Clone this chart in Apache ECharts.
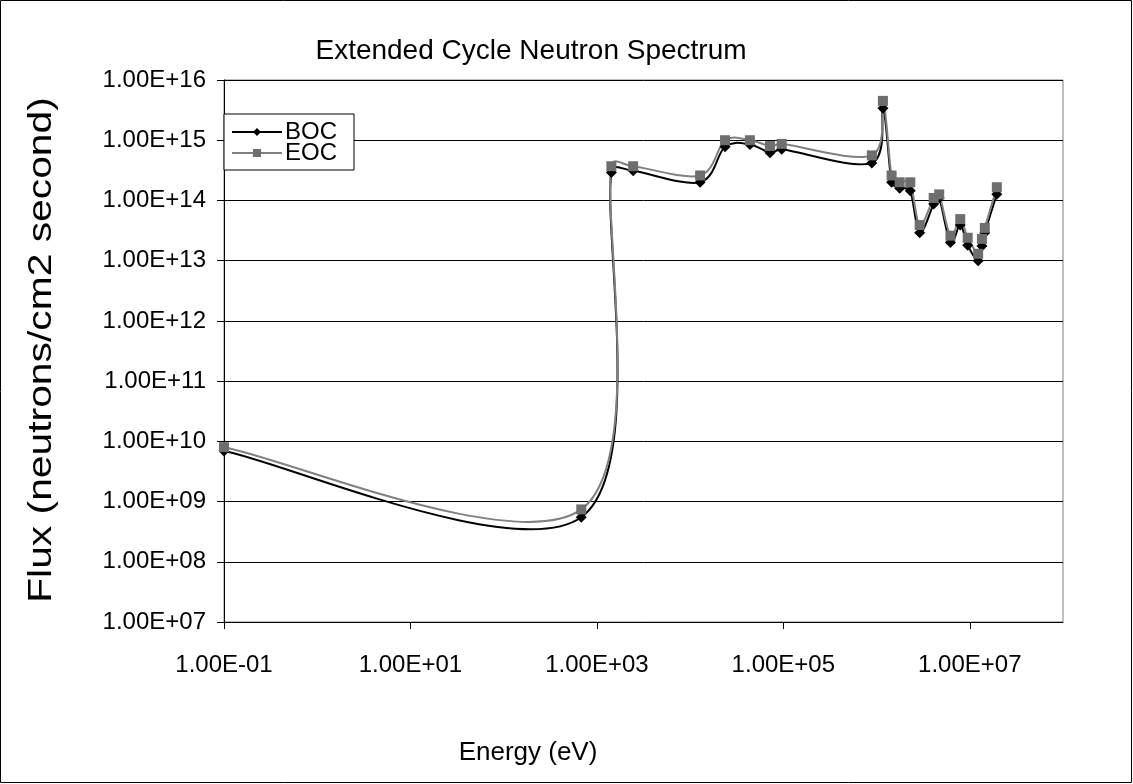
<!DOCTYPE html>
<html>
<head>
<meta charset="utf-8">
<script src="https://cdn.jsdelivr.net/npm/echarts@6/dist/echarts.min.js"></script>
<style>
html,body{margin:0;padding:0;background:#fff;}
#c{width:1133px;height:784px;}
</style>
</head>
<body>
<div id="c"></div>
<script>
const titleText = 'Extended Cycle Neutron Spectrum';
const xAxisTitle = 'Energy (eV)';
const yAxisTitle = 'Flux (neutrons/cm2 second)';
const seriesNames = ['BOC', 'EOC'];
const energy = [0.1, 680, 1430, 2450, 12800, 23700, 43800, 72000, 96000, 8.9e5, 1.17e6, 1.45e6, 1.77e6, 2.3e6, 2.9e6, 4.1e6, 4.7e6, 6.2e6, 7.9e6, 9.5e6, 1.23e7, 1.35e7, 1.45e7, 1.95e7];
const bocFlux = [6.9e9, 5.5e8, 2.9e14, 3.1e14, 2.0e14, 7.8e14, 8.5e14, 6.2e14, 7.1e14, 4.2e14, 3.4e15, 2.0e14, 1.6e14, 1.45e14, 2.9e13, 8.7e13, 1.1e14, 2.0e13, 3.9e13, 1.8e13, 1.0e13, 1.75e13, 2.9e13, 1.27e14];
const eocFlux = [8.0e9, 7.4e8, 3.7e14, 3.7e14, 2.6e14, 1.0e15, 1.0e15, 8.0e14, 8.7e14, 5.6e14, 4.5e15, 2.6e14, 2.0e14, 2.0e14, 3.9e13, 1.1e14, 1.26e14, 2.6e13, 4.9e13, 2.4e13, 1.3e13, 2.3e13, 3.5e13, 1.66e14];
const xTickValues = [0.1, 10, 1000, 1e5, 1e7];

function sci(v) {
  const e = Math.round(Math.log10(v));
  const a = Math.abs(e);
  return '1.00E' + (e < 0 ? '-' : '+') + (a < 10 ? '0' + a : '' + a);
}

// Excel-like smoothed curve (Bezier with capped Catmull-Rom tangents), positions from the axes' scales
function curveRenderer(flux, color, width) {
  return function (params, api) {
    if (params.dataIndex !== 0) return null;
    const p = energy.map((e, i) => api.coord([e, flux[i]]));
    const n = p.length;
    const dist = (a, b) => Math.hypot(a[0] - b[0], a[1] - b[1]);
    const children = [];
    for (let i = 0; i < n - 1; i++) {
      const p0 = p[Math.max(i - 1, 0)], p1 = p[i], p2 = p[i + 1], p3 = p[Math.min(i + 2, n - 1)];
      const d12 = dist(p1, p2), d02 = dist(p0, p2), d13 = dist(p1, p3);
      let f0 = 1 / 6, f1 = 1 / 6;
      if (d02 > 0 && d02 / 6 > d12 / 2) f0 = d12 / (2 * d02);
      if (d13 > 0 && d13 / 6 > d12 / 2) f1 = d12 / (2 * d13);
      children.push({
        type: 'bezierCurve',
        shape: {
          x1: p1[0], y1: p1[1], x2: p2[0], y2: p2[1],
          cpx1: p1[0] + (p2[0] - p0[0]) * f0, cpy1: p1[1] + (p2[1] - p0[1]) * f0,
          cpx2: p2[0] - (p3[0] - p1[0]) * f1, cpy2: p2[1] - (p3[1] - p1[1]) * f1
        },
        style: {fill: null, stroke: color, lineWidth: width, lineJoin: 'round'}
      });
    }
    return {type: 'group', children: children};
  };
}

const FONT = '"Liberation Sans", Arial, sans-serif';
const chart = echarts.init(document.getElementById('c'), null, {renderer: 'canvas'});
chart.setOption({
  animation: false,
  backgroundColor: '#fff',
  textStyle: {fontFamily: FONT, color: '#000'},
  title: {
    text: titleText, left: 526, top: 32, textAlign: 'center',
    textStyle: {fontFamily: FONT, fontSize: 28, fontWeight: 'normal', color: '#000'}
  },
  graphic: [
    {type: 'rect', shape: {x: 0.5, y: 0.5, width: 1131, height: 782}, style: {fill: 'none', stroke: '#000', lineWidth: 1}, silent: true},
    {type: 'text', x: 528, y: 753, style: {text: xAxisTitle, font: '26px ' + FONT, fill: '#000', align: 'center', verticalAlign: 'middle'}},
    {type: 'text', x: 42, y: 350, rotation: Math.PI / 2, scaleX: 1.2, scaleY: 1,
     style: {text: yAxisTitle, font: '34px ' + FONT, fill: '#000', align: 'center', verticalAlign: 'middle'}}
  ],
  legend: {
    orient: 'vertical', left: 224, top: 114,
    itemWidth: 50, itemHeight: 10, itemGap: -3,
    padding: [6, 17, 5, 7],
    backgroundColor: '#fff', borderColor: '#000', borderWidth: 1, borderRadius: 0,
    textStyle: {fontFamily: FONT, fontSize: 24, color: '#000', padding: [0, 0, 0, -2]},
    data: [
      {name: seriesNames[0], lineStyle: {color: '#000', width: 2, opacity: 1}},
      {name: seriesNames[1], lineStyle: {color: '#808080', width: 2, opacity: 1}}
    ]
  },
  grid: {left: 224, right: 70, top: 80, bottom: 162, show: true, borderColor: '#808080', borderWidth: 1},
  xAxis: {
    type: 'log', logBase: 10, min: 0.1, max: 1e8,
    axisLine: {show: true, lineStyle: {color: '#000', width: 1}},
    axisTick: {show: true, inside: false, length: 7, lineStyle: {color: '#000'}, customValues: xTickValues},
    axisLabel: {margin: 31, fontSize: 24, fontFamily: FONT, color: '#000', formatter: sci, customValues: xTickValues},
    splitLine: {show: false}, minorTick: {show: false}
  },
  yAxis: {
    type: 'log', logBase: 10, min: 1e7, max: 1e16,
    axisLine: {show: true, lineStyle: {color: '#000', width: 1}},
    axisTick: {show: true, inside: false, length: 7, lineStyle: {color: '#000'}},
    axisLabel: {margin: 18, fontSize: 24, fontFamily: FONT, color: '#000', formatter: sci},
    splitLine: {show: true, lineStyle: {color: '#000', width: 1}}
  },
  series: [
    {
      name: seriesNames[0] + ' curve', type: 'custom', coordinateSystem: 'cartesian2d',
      renderItem: curveRenderer(bocFlux, '#000', 2), data: [[energy[0], bocFlux[0]]], z: 2, silent: true
    },
    {
      name: seriesNames[1] + ' curve', type: 'custom', coordinateSystem: 'cartesian2d',
      renderItem: curveRenderer(eocFlux, '#808080', 2), data: [[energy[0], eocFlux[0]]], z: 2, silent: true
    },
    {
      name: seriesNames[0], type: 'line',
      data: energy.map((e, i) => [e, bocFlux[i]]),
      symbol: 'diamond', symbolSize: 11,
      lineStyle: {color: '#000', width: 2, opacity: 0},
      itemStyle: {color: '#000', borderWidth: 0},
      z: 3
    },
    {
      name: seriesNames[1], type: 'line',
      data: energy.map((e, i) => [e, eocFlux[i]]),
      symbol: 'rect', symbolSize: 10,
      lineStyle: {color: '#808080', width: 2, opacity: 0},
      itemStyle: {color: '#6e6e6e', borderWidth: 0},
      z: 4
    }
  ]
});
</script>
</body>
</html>
